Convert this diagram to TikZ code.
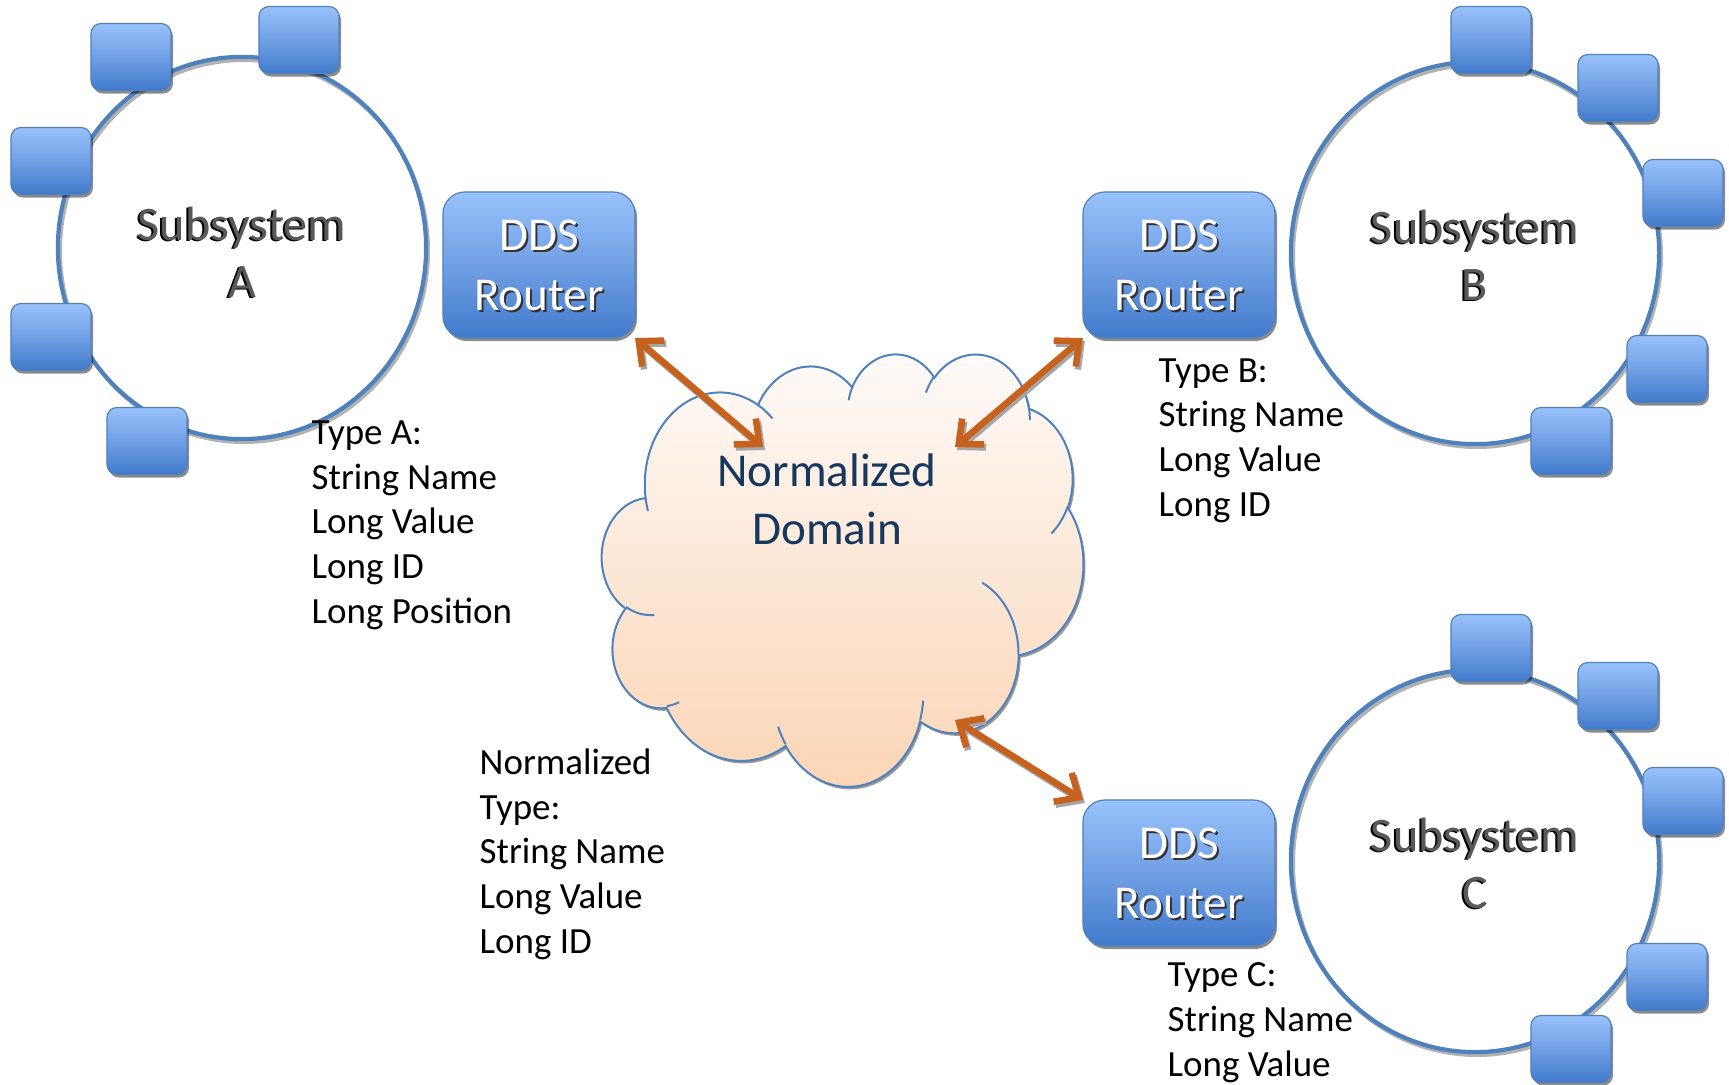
\documentclass[tikz,border=0pt]{standalone}
\usepackage{fontspec}
\setmainfont{Carlito}
\usetikzlibrary{arrows.meta,shadows,shapes.geometric}
\definecolor{ringblue}{RGB}{79,129,189}
\definecolor{boxtop}{RGB}{152,194,252}
\definecolor{boxmid}{RGB}{112,160,228}
\definecolor{boxbot}{RGB}{66,122,204}
\definecolor{boxline}{RGB}{79,129,189}
\definecolor{arrowc}{RGB}{198,97,30}
\definecolor{cloudtop}{RGB}{254,251,249}
\definecolor{cloudbot}{RGB}{251,212,180}
\definecolor{cloudline}{RGB}{79,129,189}
\definecolor{navy}{RGB}{23,55,94}
% DrawingML-style arcTo: wR hR stAng swAng (visual angles, degrees)
\newcommand\mlarc[4]{arc[x radius=#1, y radius=#2,
  start angle={atan2((#1)*sin(#3),(#2)*cos(#3))},
  end angle={atan2((#1)*sin(#3),(#2)*cos(#3))+mod(atan2((#1)*sin((#3)+(#4)),(#2)*cos((#3)+(#4)))-atan2((#1)*sin(#3),(#2)*cos(#3))+720,360)}]}
\begin{document}
\begin{tikzpicture}[x=0.01cm,y=-0.01cm,
  ring/.style={ellipse, draw=ringblue, line width=0.042cm, minimum width=3.68cm, minimum height=3.82cm, inner sep=0pt},
  ringshade/.style={draw=black!30, line width=0.04cm},
  sq/.style={rectangle, rounded corners=0.1cm, draw=boxline, line width=0.012cm,
    top color=boxtop, bottom color=boxbot, middle color=boxmid,
    minimum width=0.80cm, minimum height=0.67cm, inner sep=0pt, outer sep=0pt,
    drop shadow={shadow xshift=0.02cm, shadow yshift=-0.03cm, opacity=0.45, fill=black}},
  router/.style={sq, rounded corners=0.22cm, minimum width=1.92cm, minimum height=1.46cm},
  rtext/.style={font=\fontsize{13.4pt}{17.07pt}\selectfont, align=center, inner sep=0pt, text=white},
  rshadow/.style={rtext, text=black!80},
  subtext/.style={font=\fontsize{13.7pt}{16.2pt}\selectfont, align=center, inner sep=0pt, text=black!65},
  subshadow/.style={subtext, text=black},
  typetext/.style={font=\fontsize{10.5pt}{12.66pt}\selectfont, align=left, inner sep=0pt, anchor=base west},
  cloudfill/.style={top color=cloudtop, bottom color=cloudbot, draw=cloudline, line width=0.02cm,
    drop shadow={shadow xshift=0.02cm, shadow yshift=-0.025cm, opacity=0.4, fill=black}},
  cloudinner/.style={draw=cloudline, line width=0.02cm},
  cloudtext/.style={font=\fontsize{13.4pt}{16.5pt}\selectfont, align=center, inner sep=0pt, text=navy},
  link/.style={draw=arrowc, line width=0.065cm,
    {Straight Barb[length=0.19cm,width=0.34cm]}-{Straight Barb[length=0.19cm,width=0.34cm]}},
  linkshade/.style={link, draw=black!35}
]
\useasboundingbox (0,0) rectangle (1729,1084);

% rings
\coordinate (cenA) at (242,248);
\coordinate (cenB) at (1475,253);
\coordinate (cenC) at (1475,861);
\foreach \c in {cenA,cenB,cenC}
  \draw[ringshade] ([shift={(2,3)}]\c) ellipse[x radius=184, y radius=191];
\node[ring] (subA) at (cenA) {};
\node[ring] (subB) at (cenB) {};
\node[ring] (subC) at (cenC) {};

% small boxes
\foreach \x/\y [count=\i] in {131/57, 299/40, 51/161, 51/337, 147/441}
  \node[sq] (sqA\i) at (\x,\y) {};
\foreach \x/\y [count=\i] in {1491/40, 1618/88, 1683/193, 1667/369, 1571/441}
  \node[sq] (sqB\i) at (\x,\y) {};
\foreach \x/\y [count=\i] in {1491/648, 1618/696, 1683/801, 1667/977, 1571/1049}
  \node[sq] (sqC\i) at (\x,\y) {};

% routers
\node[router] (rA) at (539,265) {};
\node[router] (rB) at (1179,265) {};
\node[router] (rC) at (1179,873) {};
\foreach \r in {rA,rB,rC}{
  \node[rshadow] (\r s) at ([shift={(2,2)}]\r.center) {DDS\\Router};
  \node[rtext] (\r t) at (\r.center) {DDS\\Router};
}

% cloud
\begin{scope}[shift={(602,353)}, x=0.111343cm, y=-0.1cm]
\path[cloudfill] (3.900,14.370)
  \mlarc{6.753}{9.190}{-190.4875}{123.7805}
  \mlarc{5.333}{7.267}{-144.1024}{89.9452}
  \mlarc{4.365}{5.945}{-145.8079}{99.7230}
  \mlarc{4.857}{6.595}{-130.9861}{117.2417}
  \mlarc{5.333}{7.273}{-78.7089}{109.0269}
  \mlarc{6.775}{9.220}{-46.2673}{130.2690}
  \mlarc{5.785}{7.867}{0.6250}{114.0333}
  \mlarc{6.752}{9.215}{22.4516}{115.1726}
  \mlarc{7.720}{10.543}{66.2426}{75.7110}
  \mlarc{4.360}{5.918}{-274.9421}{146.7356}
  \mlarc{4.345}{5.945}{-246.8285}{152.5189}
  -- cycle;
\draw[cloudinner]
  (4.693,26.177) \mlarc{4.345}{5.945}{86.7420}{26.4295}
  (6.928,34.899) \mlarc{4.360}{5.918}{73.6105}{11.4475}
  (16.478,39.090) \mlarc{6.752}{9.215}{137.6242}{14.0811}
  (28.827,34.751) \mlarc{6.752}{9.215}{6.4533}{15.9984}
  (34.129,22.954) \mlarc{5.785}{7.867}{-70.2924}{70.9174}
  (41.798,15.354) \mlarc{5.333}{7.273}{30.3180}{27.7515}
  (38.324,5.426) \mlarc{4.857}{6.595}{-13.7443}{14.8589}
  (29.078,3.952) \mlarc{4.857}{6.595}{-149.1815}{18.1954}
  (22.141,4.720) \mlarc{4.365}{5.945}{-163.4943}{17.6864}
  (14.000,5.192) \mlarc{6.753}{9.190}{-66.7070}{12.3194}
  (4.127,15.789) \mlarc{6.753}{9.190}{157.6544}{11.8582};
\end{scope}
\node[cloudtext] (cloudlab) at (827,499) {Normalized\\Domain};

% connectors
\coordinate (cA) at (763,447);
\coordinate (cB) at (955,447);
\coordinate (cC) at (955,720);
\draw[linkshade] ([shift={(2,3)}]rA.south east) -- ([shift={(2,3)}]cA);
\draw[link] (rA.south east) -- (cA);
\draw[linkshade] ([shift={(2,3)}]rB.south west) -- ([shift={(2,3)}]cB);
\draw[link] (rB.south west) -- (cB);
\draw[linkshade] ([shift={(2,3)}]cC) -- ([shift={(2,3)}]rC.north west);
\draw[link] (cC) -- (rC.north west);

% subsystem labels
\node[subshadow] (labAs) at (240,253) {Subsystem\\A};
\node[subtext] (labA) at (242,252) {Subsystem\\A};
\node[subshadow] (labBs) at (1473,256) {Subsystem\\B};
\node[subtext] (labB) at (1475,255) {Subsystem\\B};
\node[subshadow] (labCs) at (1473,864) {Subsystem\\C};
\node[subtext] (labC) at (1475,863) {Subsystem\\C};

% type descriptions (anchored at the baseline of the last line)
\node[typetext] (typA) at (311,623) {Type A:\\String Name\\Long Value\\Long ID\\Long Position};
\node[typetext] (typN) at (479,953) {Normalized\\Type:\\String Name\\Long Value\\Long ID};
\node[typetext] (typB) at (1158,516) {Type B:\\String Name\\Long Value\\Long ID};
\node[typetext] (typC) at (1167,1076) {Type C:\\String Name\\Long Value};
\end{tikzpicture}
\end{document}
